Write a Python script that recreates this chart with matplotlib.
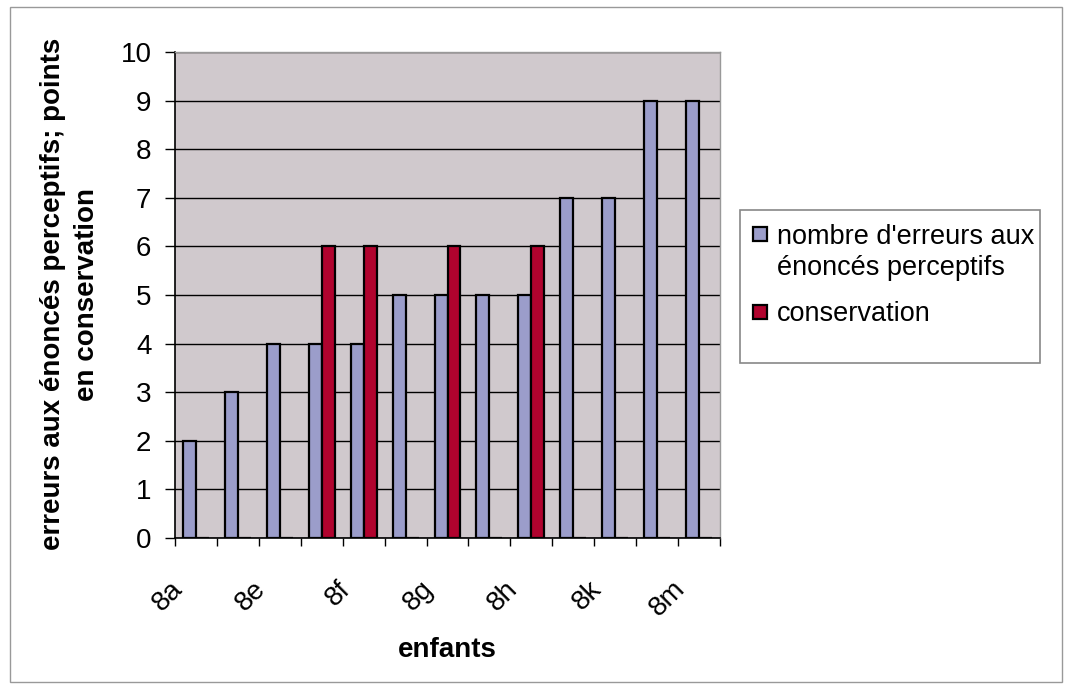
import matplotlib.pyplot as plt
import numpy as np
from matplotlib.patches import Rectangle

# Values
children = ["8a", "", "8e", "", "8f", "", "8g", "", "8h", "", "8k", "", "8m"]
perceptual_errors = [2, 3, 4, 4, 4, 5, 5, 5, 5, 7, 7, 9, 9]
conservation = [0, 0, 0, 6, 6, 0, 6, 0, 6, 0, 0, 0, 0]
y_ticks = list(range(0, 11))
series_names = ["nombre d'erreurs aux\nénoncés perceptifs", "conservation"]

BLUE = "#9b9dca"
RED = "#b0032e"
PLOT_BG = "#d0c9cd"
W, H = 1066, 689

plt.rcParams["font.family"] = ["Liberation Sans", "DejaVu Sans"]

fig = plt.figure(figsize=(W / 100, H / 100), dpi=100)
ax = fig.add_axes([175 / W, 1 - 538 / H, 545 / W, 486 / H])
ax.set_facecolor(PLOT_BG)

x = np.arange(len(children))
width = 0.31
ax.bar(x - width / 2, perceptual_errors, width, color=BLUE, edgecolor="black",
       linewidth=1.6, zorder=3)
ax.bar(x + width / 2, conservation, width, color=RED, edgecolor="black",
       linewidth=1.6, zorder=3)

ax.set_ylim(0, 10)
ax.set_yticks(y_ticks)
ax.yaxis.grid(True, color="black", linewidth=1.0, zorder=1)
ax.set_axisbelow(True)

# tick marks between categories, rotated names a little left of each centre
ax.set_xticks(np.arange(-0.5, len(children)))
ax.set_xticklabels([])
ax.set_xlim(-0.5, len(children) - 0.5)
for xi, name in zip(x, children):
    if name:
        ax.annotate(name, xy=(xi, 0), xycoords=ax.get_xaxis_transform(),
                    xytext=(-27, -38), textcoords="offset pixels",
                    rotation=45, ha="right", va="top",
                    rotation_mode="anchor", fontsize=20)
ax.tick_params(axis="x", length=6, width=1.0, direction="out")
ax.tick_params(axis="y", length=7, width=1.0, labelsize=20, pad=10)

for side in ("top", "right"):
    ax.spines[side].set_color("#999999")
    ax.spines[side].set_linewidth(1.0)
for side in ("left", "bottom"):
    ax.spines[side].set_linewidth(1.2)

fig.text(447 / W, 1 - 650 / H, "enfants", ha="center", va="center",
         fontsize=20, fontweight="bold")
fig.text(70 / W, 1 - 294 / H,
         "erreurs aux énoncés perceptifs; points\nen conservation",
         rotation=90, ha="center", va="center", fontsize=20,
         fontweight="bold", linespacing=1.35)

# legend drawn by hand so the swatch sits on the first text line
fig.patches.append(Rectangle((740 / W, 1 - 363 / H), 300 / W, 153 / H,
                             transform=fig.transFigure, facecolor="white",
                             edgecolor="#888888", linewidth=1.2))
for color, name, top in zip([BLUE, RED], series_names, [227, 305]):
    fig.patches.append(Rectangle((753 / W, 1 - (top + 14) / H), 14 / W, 14 / H,
                                 transform=fig.transFigure, facecolor=color,
                                 edgecolor="black", linewidth=1.6))
for line, baseline in zip(series_names[0].split("\n") + [series_names[1]],
                          [244, 275, 321]):
    fig.text(777 / W, 1 - baseline / H, line, ha="left", va="baseline",
             fontsize=19.5)

# outer chart border
fig.patches.append(Rectangle((10 / W, 7 / H), 1052 / W, 675 / H,
                             transform=fig.transFigure, fill=False,
                             edgecolor="#999999", linewidth=1.0))

fig.savefig("out.png", dpi=100)
